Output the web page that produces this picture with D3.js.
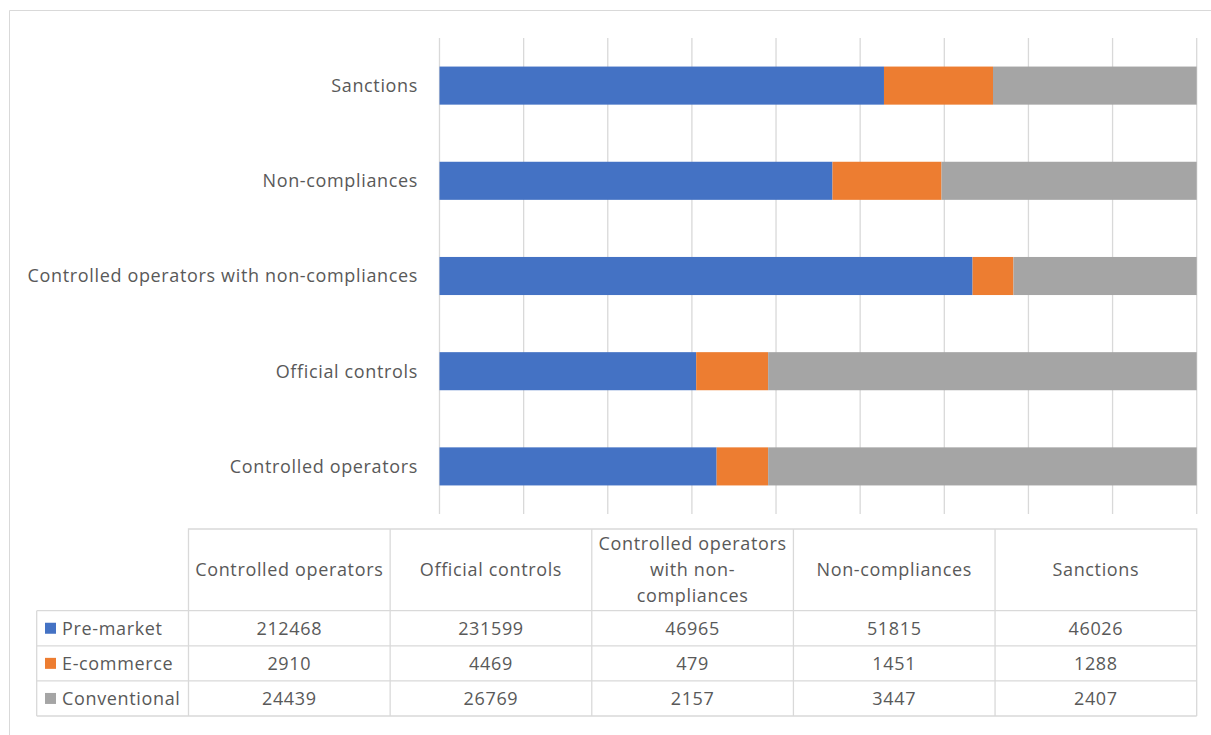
<!DOCTYPE html>
<html>
<head>
<meta charset="utf-8">
<script src="https://cdn.jsdelivr.net/npm/d3@7"></script>
<style>
  body { margin: 0; background: #fff; }
  svg { display: block; font-family: "Open Sans", "Noto Sans", sans-serif; letter-spacing: 0.65px; }
</style>
</head>
<body>
<div id="chart"></div>
<script>
const W = 1211;
const H = 735;

// categories in table order (chart draws them bottom -> top)
const categories = ['Controlled operators', 'Official controls', 'Controlled operators with non-compliances', 'Non-compliances', 'Sanctions'];
const headerLines = [['Controlled operators'], ['Official controls'], ['Controlled operators', 'with non-', 'compliances'], ['Non-compliances'], ['Sanctions']];
const seriesNames = ['Pre-market', 'E-commerce', 'Conventional'];

// values printed in the data table
const preMarket = [212468, 231599, 46965, 51815, 46026];
const eCommerce = [2910, 4469, 479, 1451, 1288];
const conventional = [24439, 26769, 2157, 3447, 2407];

// bar shares as drawn (fraction of full bar)
const preMarketShare = [0.366, 0.339, 0.704, 0.519, 0.587];
const eCommerceShare = [0.068, 0.095, 0.054, 0.144, 0.144];
const conventionalShare = [0.566, 0.566, 0.242, 0.337, 0.269];

const colors = ['#4472C4', '#ED7D31', '#A5A5A5'];
const textColor = '#595959';
const fontSize = 18;

const svg = d3.select('#chart').append('svg').attr('width', W).attr('height', H);

// outer chart border (cropped on right/bottom)
svg.append('path')
    .attr('d', 'M9.5,' + H + 'V10.5H' + W)
    .attr('fill', 'none')
    .attr('stroke', '#D9D9D9');

const xScale = d3.scaleLinear().domain([0, 1]).range([439.5, 1196.7]);
const yScale = d3.scaleBand().domain(categories.slice().reverse()).range([38, 514]).paddingInner(0.6).paddingOuter(0.3);

// gridlines
const gridVals = d3.range(10).map(i => i / 9);
svg.append('g')
    .selectAll('line')
    .data(gridVals)
    .enter()
    .append('line')
    .attr('x1', d => xScale(d))
    .attr('x2', d => xScale(d))
    .attr('y1', 38)
    .attr('y2', 514)
    .attr('stroke', '#D9D9D9')
    .attr('stroke-width', 1.3);

// stacked bars
const rows = categories.map((c, i) => ({
    cat: c,
    'Pre-market': preMarketShare[i],
    'E-commerce': eCommerceShare[i],
    'Conventional': conventionalShare[i]
}));
const stacked = d3.stack().keys(seriesNames)(rows);

svg.append('g')
    .selectAll('g')
    .data(stacked)
    .enter()
    .append('g')
    .attr('fill', (d, i) => colors[i])
    .selectAll('rect')
    .data(d => d)
    .enter()
    .append('rect')
    .attr('x', d => xScale(d[0]))
    .attr('width', d => xScale(d[1]) - xScale(d[0]))
    .attr('y', d => yScale(d.data.cat))
    .attr('height', yScale.bandwidth());

// category labels
svg.append('g')
    .selectAll('text')
    .data(categories)
    .enter()
    .append('text')
    .attr('x', 418)
    .attr('y', d => yScale(d) + yScale.bandwidth() / 2)
    .attr('dy', '0.35em')
    .attr('text-anchor', 'end')
    .attr('font-size', fontSize)
    .attr('fill', textColor)
    .text(d => d);

// data table
const colScale = d3.scaleBand().domain(categories).range([188.5, 1196.7]);
const tableTop = 529;
const headerBottom = 610.7;
const rowH = 35.1;
const legendLeft = 36.7;
const tableBottom = headerBottom + rowH * 3;
const lineColor = '#D9D9D9';
const table = svg.append('g').attr('stroke', lineColor).attr('stroke-width', 1.3).attr('fill', 'none');

// header box
table.append('path').attr('d', `M${colScale.range()[0]},${tableBottom}V${tableTop}H${colScale.range()[1]}V${tableBottom}`);
categories.slice(1).forEach(c => {
    table.append('line').attr('x1', colScale(c)).attr('x2', colScale(c)).attr('y1', tableTop).attr('y2', tableBottom);
});
// body rows
d3.range(4).forEach(i => {
    const y = headerBottom + i * rowH;
    table.append('line').attr('x1', legendLeft).attr('x2', colScale.range()[1]).attr('y1', y).attr('y2', y);
});
table.append('line').attr('x1', legendLeft).attr('x2', legendLeft).attr('y1', headerBottom).attr('y2', tableBottom);

// header texts
const headerG = svg.append('g').attr('fill', textColor).attr('font-size', fontSize).attr('text-anchor', 'middle');
categories.forEach((c, i) => {
    const lines = headerLines[i];
    const cy = (tableTop + headerBottom) / 2;
    lines.forEach((ln, j) => {
        headerG.append('text')
            .attr('x', colScale(c) + colScale.bandwidth() / 2)
            .attr('y', cy + (j - (lines.length - 1) / 2) * 26)
            .attr('dy', '0.35em')
            .text(ln);
    });
});

// body values + legend keys
const seriesVals = [preMarket, eCommerce, conventional];
seriesNames.forEach((s, si) => {
    const cy = headerBottom + si * rowH + rowH / 2;
    svg.append('rect')
        .attr('x', 45).attr('y', cy - 5.5)
        .attr('width', 11).attr('height', 11)
        .attr('fill', colors[si]);
    svg.append('text')
        .attr('x', 62).attr('y', cy).attr('dy', '0.35em')
        .attr('font-size', fontSize).attr('fill', textColor)
        .text(s);
    categories.forEach((c, ci) => {
        svg.append('text')
            .attr('x', colScale(c) + colScale.bandwidth() / 2)
            .attr('y', cy).attr('dy', '0.35em')
            .attr('text-anchor', 'middle')
            .attr('font-size', fontSize).attr('fill', textColor)
            .text(seriesVals[si][ci]);
    });
});
</script>
</body>
</html>
